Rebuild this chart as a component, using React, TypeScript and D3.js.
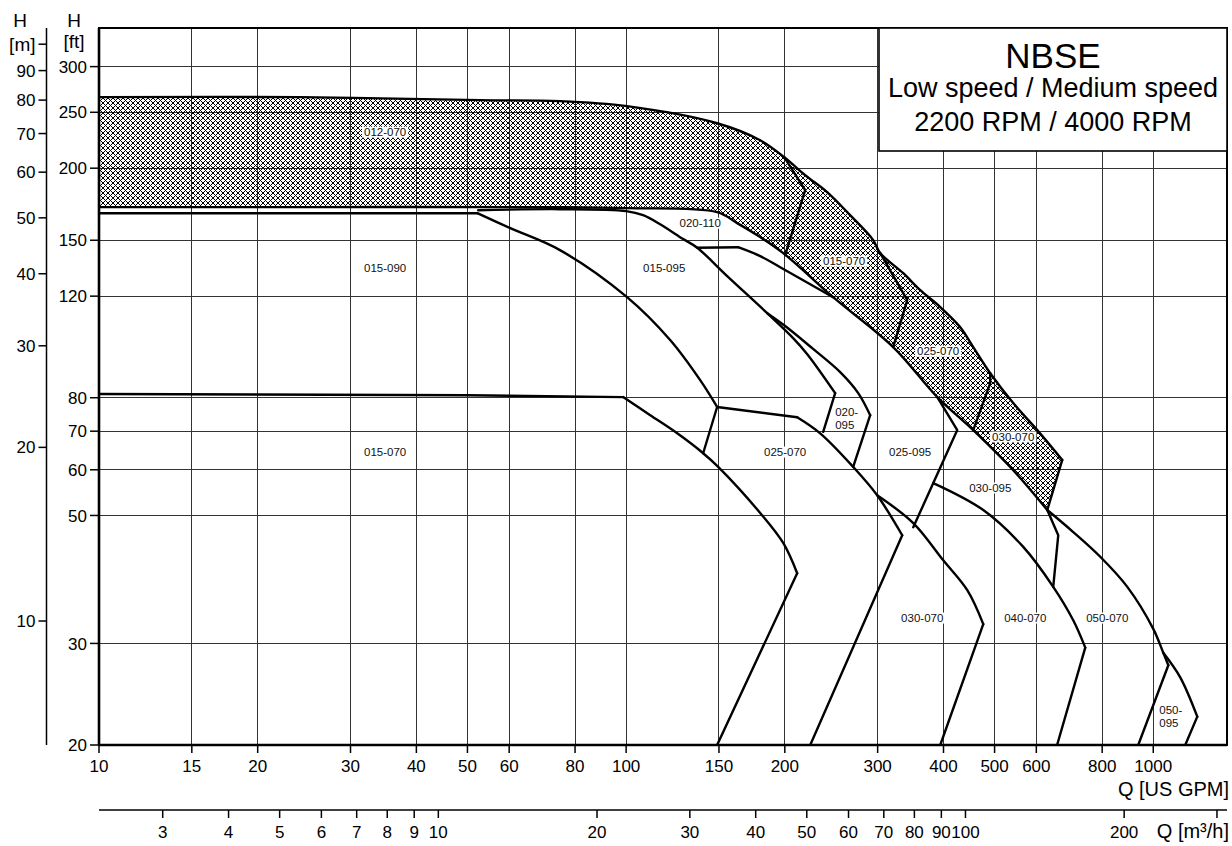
import { useEffect, useRef } from "react";
import * as d3 from "d3";

const WIDTH = 1232;
const HEIGHT = 846;
const GPM_TO_M3H = 0.2271247;
const FT_TO_M = 0.3048;
const FONT = "'Liberation Sans', Arial, Helvetica, sans-serif";

const gpmTicks = [10, 15, 20, 30, 40, 50, 60, 80, 100, 150, 200, 300, 400, 500, 600, 800, 1000];
const ftTicks = [20, 30, 50, 60, 70, 80, 120, 150, 200, 250, 300];
const meterTicks = [10, 20, 30, 40, 50, 60, 70, 80, 90];
const m3hTicks = [3, 4, 5, 6, 7, 8, 9, 10, 20, 30, 40, 50, 60, 70, 80, 90, 100, 200];
const m3hEndTick = 300;

// hatched band (012-070 / 015-070 / 025-070 / 030-070), [US GPM, ft]
const bandUpper = [
  [10, 265.6], [24, 265.6], [52.8, 262.4], [74.9, 261.4], [100.4, 256.2], [148.8, 239.3],
  [179.6, 223.6], [199.5, 209], [218.6, 194.5], [240.6, 181.8], [266, 165.8], [294.2, 150.1],
  [303.4, 142.5], [335.5, 131.5], [361.4, 122.9], [394.4, 114.9], [430.4, 106.0], [455.5, 97.9],
  [490.6, 88.2], [542.4, 78.3], [602.5, 70.3], [672, 62.4],
];
const bandLower = [
  [10, 171.2], [24, 171.2], [74.9, 171.2], [100.4, 170.5], [148.8, 167.8], [162.4, 160.6],
  [179.6, 151.9], [198.6, 142.5], [247, 119.5], [321.1, 97.9], [389.3, 80.2], [455.5, 70.3],
  [542.4, 59.9], [629.4, 51.1],
];
const bandEnd = [[672, 62.4], [629.4, 51.1]];
const split012015 = [[199.5, 209], [218.6, 183.2], [200.3, 141.3]];
const split015025 = [[303.4, 142.5], [341.4, 118.1], [321.1, 97.9]];
const split025030 = [[490.6, 88.2], [490.6, 84.8], [455.5, 70.3]];

// open curves
const flat015090 = [[10, 167.1], [52.2, 167.1]];
const curve015090 = [[52.2, 167.1], [60.3, 157.4], [74.9, 144.2], [100.4, 119.5], [121.2, 100.7], [138.2, 85.8], [148.8, 77.1]];
const split015070 = [[148.8, 77.1], [140, 64.1]];

const curve015095 = [
  [52.4, 169.1], [74.9, 169.8], [100, 168.5], [107.7, 165.8], [116, 159.9], [128.3, 150.7],
  [136.4, 145.6], [155.5, 130.0], [185.2, 112.1], [207.4, 101.5], [220.6, 95.2], [249.2, 81.5],
];
const tail015095 = [[249.2, 81.5], [236.5, 69.8]];

const top020095 = [[136.4, 145.6], [163.1, 145.9]];
const curve020095Top = [[163.1, 145.9], [179.6, 140.8], [196, 134.7], [247, 119.5]];
const curve020095 = [[185.2, 112.1], [200.3, 106.5], [225.4, 97.5], [254.7, 88.6], [275.6, 81.5], [290.4, 74.6]];
const tail020095 = [[290.4, 74.6], [269.6, 60.7]];

const top025070 = [[148.8, 77.1], [211.1, 74.0]];
const curve025070 = [[211.1, 74.0], [233.4, 69.4], [269.6, 60.7], [299.4, 54.2], [334, 46.2]];
const tail025070 = [[334, 46.2], [223.5, 20]];

const edge025095 = [[389.3, 80.2], [424.8, 70.3], [350.5, 47.7]];

const curve030070 = [[299.4, 54.2], [350.5, 48.5], [399.6, 41.8], [443.8, 37.1], [475.9, 32.4]];
const tail030070 = [[475.9, 32.4], [394.4, 20]];

const curve040070 = [[382.5, 56.9], [475.9, 51.1], [566.7, 44.1], [646, 37.6], [705, 32.9], [743, 29.5]];
const tail040070 = [[743, 29.5], [657, 20]];
const edge030095 = [[629.4, 51.1], [660.3, 46.2], [646, 37.6]];

const curve050070 = [[629.4, 51.1], [705, 46.8], [793.3, 42.4], [892.8, 37.6], [1000, 31.8], [1044.7, 28.9], [1068, 27.5]];
const tail050070 = [[1068, 27.5], [936.5, 20]];
const curve050095 = [[1044.7, 28.9], [1125, 26.2], [1212, 22.4]];
const tail050095 = [[1212, 22.4], [1150, 20]];

const flat015070 = [[10, 81.2], [50, 80.8], [98.7, 80.2]];
const curve015070 = [[98.7, 80.2], [111.1, 74.6], [125, 69.4], [140, 64.1], [149.5, 60.7], [179.6, 50.5], [198.6, 44.8], [211.1, 39.7]];
const tail015070 = [[211.1, 39.7], [148.8, 20]];

const modelLabels = [
  { text: "012-070", q: 34.9, h: 230.9 },
  { text: "015-090", q: 34.9, h: 134.2 },
  { text: "015-095", q: 118.1, h: 134.2 },
  { text: "020-110", q: 138.2, h: 160.6 },
  { text: "015-070", q: 259.2, h: 138.0 },
  { text: "025-070", q: 390.8, h: 96.3 },
  { text: "030-070", q: 542.4, h: 68.4 },
  { text: "015-070", q: 34.9, h: 64.4 },
  { text: "025-070", q: 200.3, h: 64.4 },
  { text: "025-095", q: 345.8, h: 64.4 },
  { text: "030-095", q: 490.6, h: 55.8 },
  { text: "030-070", q: 364.5, h: 33.2 },
  { text: "040-070", q: 571.7, h: 33.2 },
  { text: "050-070", q: 818, h: 33.2 },
];
const stackedLabels = [
  { lines: ["020-", "095"], q: 249.2, h: 73.6 },
  { lines: ["050-", "095"], q: 1026.6, h: 22.4 },
];

const titleLines = ["NBSE", "Low speed / Medium speed", "2200 RPM / 4000 RPM"];

const addLabel = (g, text, px, py, anchor) => {
  const label = g
    .append("text")
    .attr("x", px)
    .attr("y", py)
    .attr("dy", "0.35em")
    .attr("text-anchor", anchor)
    .attr("font-size", 11.5)
    .attr("fill", "#111")
    .text(text);
  const box = label.node().getBBox();
  g.insert("rect", () => label.node())
    .attr("x", box.x - 2)
    .attr("y", box.y + 0.5)
    .attr("width", box.width + 4)
    .attr("height", box.height - 1)
    .attr("fill", "#fff");
};

export default function App() {
  const ref = useRef(null);

  useEffect(() => {
    document.body.style.margin = "0";
    document.body.style.overflow = "hidden";
    const svg = d3.select(ref.current);
    svg.selectAll("*").remove();
    svg.attr("font-family", FONT);

    const left = 99;
    const right = 1227;
    const top = 28;
    const bottom = 745;
    const x = d3.scaleLog().domain([10, 1380]).range([left, right]);
    const y = d3.scaleLog().domain([20, 350]).range([bottom, top]);

    const smooth = d3.line().x((d) => x(d[0])).y((d) => y(d[1])).curve(d3.curveCatmullRom.alpha(0.5));
    const straight = d3.line().x((d) => x(d[0])).y((d) => y(d[1]));

    const defs = svg.append("defs");
    defs
      .append("clipPath")
      .attr("id", "plot-clip")
      .append("rect")
      .attr("x", left)
      .attr("y", top)
      .attr("width", right - left)
      .attr("height", bottom - top);

    // pixel cross-hatch: two 1px diagonals per 5px tile
    const tile = 5;
    const pattern = defs
      .append("pattern")
      .attr("id", "xhatch")
      .attr("patternUnits", "userSpaceOnUse")
      .attr("width", tile)
      .attr("height", tile)
      .attr("shape-rendering", "crispEdges");
    pattern
      .selectAll("rect")
      .data(d3.range(tile).flatMap((i) => [[i, i], [(tile - i) % tile, i]]))
      .join("rect")
      .attr("x", (d) => d[0])
      .attr("y", (d) => d[1])
      .attr("width", 1)
      .attr("height", 1)
      .attr("fill", "#000");

    svg.append("rect").attr("width", WIDTH).attr("height", HEIGHT).attr("fill", "#fff");

    // grid
    const grid = svg.append("g").attr("stroke", "#333").attr("stroke-width", 1).attr("shape-rendering", "crispEdges");
    grid
      .selectAll("line.v")
      .data(gpmTicks.slice(1))
      .join("line")
      .attr("class", "v")
      .attr("x1", (d) => x(d))
      .attr("x2", (d) => x(d))
      .attr("y1", top)
      .attr("y2", bottom);
    grid
      .selectAll("line.h")
      .data(ftTicks.slice(1))
      .join("line")
      .attr("class", "h")
      .attr("x1", left)
      .attr("x2", right)
      .attr("y1", (d) => y(d))
      .attr("y2", (d) => y(d));

    const plot = svg.append("g").attr("clip-path", "url(#plot-clip)");

    // hatched band
    const bandPath =
      smooth(bandUpper) +
      straight(bandEnd).replace("M", "L") +
      smooth(bandLower.slice().reverse()).replace("M", "L") +
      "Z";
    plot.append("path").attr("d", bandPath).attr("fill", "url(#xhatch)");

    const pieces = [
      [bandUpper, true], [bandLower, true], [bandEnd, false],
      [split012015, false], [split015025, false], [split025030, false],
      [flat015090, false], [curve015090, true], [split015070, false],
      [curve015095, true], [tail015095, false],
      [top020095, false], [curve020095Top, true], [curve020095, true], [tail020095, false],
      [top025070, false], [curve025070, true], [tail025070, false],
      [edge025095, false],
      [curve030070, true], [tail030070, false],
      [curve040070, true], [tail040070, false], [edge030095, false],
      [curve050070, true], [tail050070, false], [curve050095, true], [tail050095, false],
      [flat015070, false], [curve015070, true], [tail015070, false],
    ];
    plot
      .selectAll("path.curve")
      .data(pieces)
      .join("path")
      .attr("class", "curve")
      .attr("d", (d) => (d[1] ? smooth(d[0]) : straight(d[0])))
      .attr("fill", "none")
      .attr("stroke", "#000")
      .attr("stroke-width", 2.4)
      .attr("stroke-linejoin", "round")
      .attr("stroke-linecap", "round");

    // model labels
    const labels = svg.append("g").attr("font-family", FONT);
    modelLabels.forEach((l) => addLabel(labels, l.text, x(l.q), y(l.h), "middle"));
    stackedLabels.forEach((l) => {
      const cy = y(l.h);
      l.lines.forEach((line, i) => addLabel(labels, line, x(l.q), cy + (i - (l.lines.length - 1) / 2) * 13, "start"));
    });

    // plot frame
    svg
      .append("rect")
      .attr("x", left)
      .attr("y", top)
      .attr("width", right - left)
      .attr("height", bottom - top)
      .attr("fill", "none")
      .attr("stroke", "#000")
      .attr("stroke-width", 2);
    svg.append("line").attr("x1", left).attr("x2", left).attr("y1", top).attr("y2", bottom).attr("stroke", "#000").attr("stroke-width", 2.6);
    svg.append("line").attr("x1", left).attr("x2", right).attr("y1", bottom).attr("y2", bottom).attr("stroke", "#000").attr("stroke-width", 2.6);

    // title box
    const tb = { x: 879, y: top, w: right - 879, h: 123 };
    svg
      .append("rect")
      .attr("x", tb.x)
      .attr("y", tb.y)
      .attr("width", tb.w)
      .attr("height", tb.h)
      .attr("fill", "#fff")
      .attr("stroke", "#000")
      .attr("stroke-width", 1.6);
    const cx = tb.x + tb.w / 2;
    [[68, 35], [97, 27], [131, 27]].forEach(([base, size], i) => {
      svg
        .append("text")
        .attr("x", cx)
        .attr("y", base)
        .attr("text-anchor", "middle")
        .attr("font-size", size)
        .attr("fill", "#000")
        .text(titleLines[i]);
    });

    const axisText = (g, tx, ty, text, anchor, size = 17, dy = null) => {
      const t = g
        .append("text")
        .attr("x", tx)
        .attr("y", ty)
        .attr("text-anchor", anchor)
        .attr("font-size", size)
        .attr("fill", "#000")
        .text(text);
      if (dy) t.attr("dy", dy);
      return t;
    };

    const axes = svg.append("g");

    // bottom axis: US GPM
    gpmTicks.forEach((d) => {
      axes.append("line").attr("x1", x(d)).attr("x2", x(d)).attr("y1", bottom).attr("y2", bottom + 8).attr("stroke", "#000").attr("stroke-width", 1.5);
      axisText(axes, x(d), 772, d, "middle");
    });
    axisText(axes, 1229, 796, "Q [US GPM]", "end", 20);

    // second bottom axis: m3/h
    const m3Y = 810;
    axes.append("line").attr("x1", left).attr("x2", right).attr("y1", m3Y).attr("y2", m3Y).attr("stroke", "#000").attr("stroke-width", 1.5);
    [...m3hTicks, m3hEndTick].forEach((d) => {
      const px = x(d / GPM_TO_M3H);
      axes.append("line").attr("x1", px).attr("x2", px).attr("y1", m3Y).attr("y2", m3Y + 8).attr("stroke", "#000").attr("stroke-width", 1.5);
    });
    m3hTicks.forEach((d) => axisText(axes, x(d / GPM_TO_M3H), 838, d, "middle"));
    axisText(axes, 1229, 838, "Q [m³/h]", "end", 20);

    // left axis: ft
    ftTicks.forEach((d) => {
      axes.append("line").attr("x1", left - 9).attr("x2", left).attr("y1", y(d)).attr("y2", y(d)).attr("stroke", "#000").attr("stroke-width", 1.5);
      axisText(axes, left - 12, y(d), d, "end", 17, "0.36em");
    });
    axisText(axes, 74, 27, "H", "middle", 19);
    axisText(axes, 74, 48, "[ft]", "middle", 19);

    // far left axis: m
    const mX = 46.5;
    axes.append("line").attr("x1", mX).attr("x2", mX).attr("y1", top).attr("y2", bottom).attr("stroke", "#000").attr("stroke-width", 1.5);
    [...meterTicks, 100].forEach((d) => {
      const py = y(d / FT_TO_M);
      axes.append("line").attr("x1", mX - 8).attr("x2", mX).attr("y1", py).attr("y2", py).attr("stroke", "#000").attr("stroke-width", 1.5);
    });
    meterTicks.forEach((d) => axisText(axes, mX - 11, y(d / FT_TO_M), d, "end", 17, "0.36em"));
    axisText(axes, mX - 11, y(100 / FT_TO_M), "[m]", "end", 19, "0.36em");
    axisText(axes, 20, 27, "H", "middle", 19);
  }, []);

  return <svg ref={ref} width={WIDTH} height={HEIGHT} style={{ display: "block" }} />;
}
